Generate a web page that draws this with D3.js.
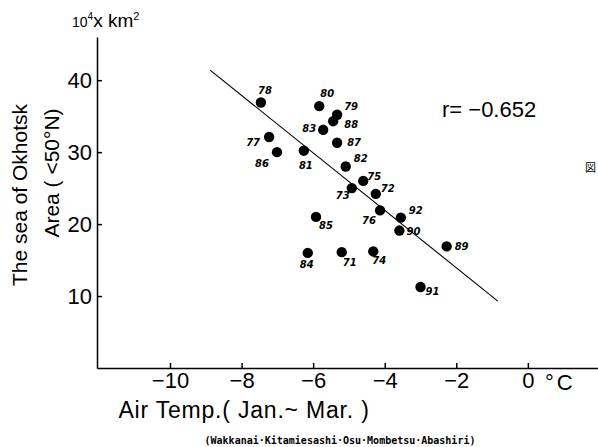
<!DOCTYPE html>
<html>
<head>
<meta charset="utf-8">
<script src="https://cdn.jsdelivr.net/npm/d3@7"></script>
<style>
    body { margin: 0; background: #fff; }
    svg { display: block; }
    .axis path, .axis line { stroke: #000; stroke-width: 1.5px; }
    .axis text { font-family: "Liberation Sans", sans-serif; font-size: 22px; fill: #000; }
</style>
</head>
<body>
<div id="chart"></div>
<script>

// data
let years = ["78", "77", "86", "80", "79", "88", "83", "87", "81", "82", "73",
             "85", "84", "71", "75", "72", "76", "92", "90", "89", "74", "91"];
let airTemp = [-7.46, -7.23, -7.01, -5.83, -5.33, -5.44, -5.72, -5.33, -6.26, -5.09, -4.92,
               -5.92, -6.15, -5.20, -4.60, -4.25, -4.13, -3.55, -3.59, -2.27, -4.32, -3.00];
let iceArea = [36.9, 32.1, 30.0, 36.4, 35.2, 34.3, 33.1, 31.3, 30.2, 28.0, 25.0,
               21.0, 16.0, 16.1, 26.0, 24.2, 21.9, 20.9, 19.1, 16.9, 16.2, 11.25];

let xTicks = [-10, -8, -6, -4, -2, 0];
let yTicks = [10, 20, 30, 40];

// regression line end points
let lineX = [-8.88, -0.84];
let lineY = [41.4, 9.3];
let corrText = "r= −0.652";

// where each year label sits relative to its dot (px)
let labelOffset = {
    "78": [4, -12], "77": [-16, 5], "86": [-15, 11], "80": [8, -13], "79": [14, -8],
    "88": [18, 3], "83": [-14, -1], "87": [17, 0], "81": [2, 15], "82": [15, -8],
    "73": [-9, 7], "85": [10, 9], "84": [-1, 12], "71": [8, 10], "75": [11, -4],
    "72": [12, -5], "76": [-11, 10], "92": [15, -7], "90": [14, 1], "89": [15, 0],
    "74": [6, 9], "91": [12, 4]
};

let points = years.map((y, i) => ({year: y, temp: airTemp[i], area: iceArea[i]}));

let width = 598, height = 447;

let svg = d3.select("#chart").append("svg")
    .attr("width", width)
    .attr("height", height);

let x = d3.scaleLinear().domain([-12.04, 1.96]).range([97, 598]);
let y = d3.scaleLinear().domain([0, 46]).range([368, 37]);

let fmt = d => d < 0 ? "−" + Math.abs(d) : d;

// axes
let xAxis = d3.axisBottom(x)
    .tickValues(xTicks)
    .tickSizeInner(-5)
    .tickSizeOuter(0)
    .tickPadding(4)
    .tickFormat(fmt);

svg.append("g")
    .attr("class", "axis")
    .attr("transform", "translate(0," + y(0) + ")")
    .call(xAxis);

let yAxis = d3.axisLeft(y)
    .tickValues(yTicks)
    .tickSizeInner(-5)
    .tickSizeOuter(0)
    .tickPadding(5)
    .tickFormat(fmt);

svg.append("g")
    .attr("class", "axis")
    .attr("transform", "translate(" + x(-12.04) + ",0)")
    .call(yAxis);

// regression line
svg.append("line")
    .attr("x1", x(lineX[0])).attr("y1", y(lineY[0]))
    .attr("x2", x(lineX[1])).attr("y2", y(lineY[1]))
    .attr("stroke", "#000")
    .attr("stroke-width", 1.1);

// dots
svg.selectAll(".dot")
    .data(points)
    .join("circle")
    .attr("class", "dot")
    .attr("cx", d => x(d.temp))
    .attr("cy", d => y(d.area))
    .attr("r", 5.2)
    .attr("fill", "#000");

// year labels
svg.selectAll(".yr")
    .data(points)
    .join("text")
    .attr("class", "yr")
    .attr("x", d => x(d.temp) + labelOffset[d.year][0])
    .attr("y", d => y(d.area) + labelOffset[d.year][1])
    .attr("text-anchor", "middle")
    .attr("dominant-baseline", "central")
    .attr("font-family", "DejaVu Sans, sans-serif")
    .attr("font-style", "italic")
    .attr("font-weight", "bold")
    .attr("font-size", "10px")
    .text(d => d.year);

// correlation
svg.append("text")
    .attr("x", 442).attr("y", 117)
    .attr("font-family", "Liberation Sans, sans-serif")
    .attr("font-size", "22px")
    .text(corrText);

// unit at top of y axis
let unit = svg.append("text")
    .attr("x", 72).attr("y", 27)
    .attr("font-family", "Liberation Sans, sans-serif")
    .attr("font-size", "19px");
unit.append("tspan").attr("font-size", "14px").text("10");
unit.append("tspan").attr("font-size", "10px").attr("dy", -7).text("4");
unit.append("tspan").attr("dy", 7).text("x km");
unit.append("tspan").attr("font-size", "11px").attr("dy", -7).text("2");

// °C unit
svg.append("text")
    .attr("x", 545).attr("y", 390)
    .attr("font-family", "Liberation Sans, sans-serif")
    .attr("font-size", "22px")
    .attr("letter-spacing", "3px")
    .text("°C");

// x axis title
svg.append("text")
    .attr("x", 244).attr("y", 418)
    .attr("text-anchor", "middle")
    .attr("font-family", "Liberation Sans, sans-serif")
    .attr("font-size", "23px")
    .attr("letter-spacing", "0.8px")
    .text("Air Temp.( Jan.~ Mar. )");

svg.append("text")
    .attr("x", 340).attr("y", 444)
    .attr("text-anchor", "middle")
    .attr("font-family", "DejaVu Sans Mono, monospace")
    .attr("font-weight", "bold")
    .attr("font-size", "10px")
    .text("(Wakkanai·Kitamiesashi·Osu·Mombetsu·Abashiri)");

// y axis title, two rotated lines
svg.append("text")
    .attr("transform", "translate(27,195) rotate(-90)")
    .attr("text-anchor", "middle")
    .attr("font-family", "Liberation Sans, sans-serif")
    .attr("font-size", "21px")
    .text("The sea of Okhotsk");

svg.append("text")
    .attr("transform", "translate(59,173) rotate(-90)")
    .attr("text-anchor", "middle")
    .attr("font-family", "Liberation Sans, sans-serif")
    .attr("font-size", "21px")
    .text("Area ( <50°N)");

// figure mark at right edge
svg.append("text")
    .attr("x", 585).attr("y", 172)
    .attr("font-family", "Noto Sans CJK JP, sans-serif")
    .attr("font-size", "11px")
    .text("図");

</script>
</body>
</html>
